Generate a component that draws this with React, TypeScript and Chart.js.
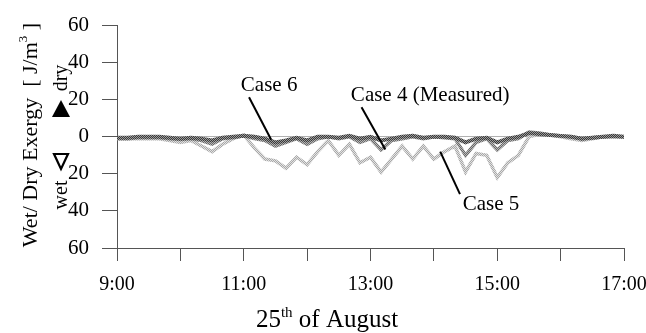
import { useEffect, useRef } from "react";
import { Chart, registerables } from "chart.js";

Chart.register(...registerables);

// ---- data ----
const timeLabels = [
  "9:00", "9:10", "9:20", "9:30", "9:40", "9:50",
  "10:00", "10:10", "10:20", "10:30", "10:40", "10:50",
  "11:00", "11:10", "11:20", "11:30", "11:40", "11:50",
  "12:00", "12:10", "12:20", "12:30", "12:40", "12:50",
  "13:00", "13:10", "13:20", "13:30", "13:40", "13:50",
  "14:00", "14:10", "14:20", "14:30", "14:40", "14:50",
  "15:00", "15:10", "15:20", "15:30", "15:40", "15:50",
  "16:00", "16:10", "16:20", "16:30", "16:40", "16:50",
  "17:00",
];

const case4Measured = [
  -1, -1, -0.5, -0.5, -0.5, -1, -1.5, -1, -2, -4, -1, -0.5, 0.5,
  -1, -2, -5, -3, -1, -4, -1, 0, -1, 0, -3, -1,
  -7, -2, -1, 0, -1, 0, -0.5, -1, -10, -3, -1, -7,
  -2, -1, 2.5, 2, 1, 0.5, 0, -1, -0.5, 0, 0, 0,
];

const case5 = [
  -1, -1, -1, -1, -1, -2, -3, -2, -5, -8, -4, -1, 1,
  -6, -12, -13, -17, -11, -15, -8, -2, -10, -4, -14, -11,
  -19, -12, -5, -12, -5, -12, -8, -5, -19, -9, -10, -22,
  -14, -10, 0, 1.5, 1, 0, -1, -2, -1, 0, 0, 0,
];

const case6 = [
  -0.5, -0.5, 0, 0, 0, -0.5, -1, -0.5, -1, -2, -0.5, 0, 0.5,
  0, -1, -3, -2, -0.5, -2, 0, 0, -0.5, 0.5, -1, 0,
  -2, -1, 0, 0.5, -0.5, 0, 0, -0.5, -3, -1, -0.5, -3,
  -1, 0, 2, 1.5, 1, 0.5, 0, -1, -0.5, 0, 0.5, 0,
];

const yTickValues = [-60, -40, -20, 0, 20, 40, 60];
const xTickLabelsShown = ["9:00", "11:00", "13:00", "15:00", "17:00"];

// callouts: label text, label anchor (minutes, value), leader from/to (minutes, value)
const callouts = [
  { text: "Case 6", tx: 144, ty: 27.7, x1: 125, y1: 21.3, x2: 146, y2: -1.6 },
  { text: "Case 4 (Measured)", tx: 296.5, ty: 22.4, x1: 231.5, y1: 16, x2: 254, y2: -6.9 },
  { text: "Case 5", tx: 354, ty: -36.5, x1: 306, y1: -8, x2: 324.7, y2: -30.9 },
];

const SERIF = '"Liberation Serif", "Times New Roman", serif';

function toMinutes(label: string): number {
  const [h, m] = label.split(":").map(Number);
  return (h - 9) * 60 + m;
}

function series(values: number[]) {
  return timeLabels.map((t, i) => ({ x: toMinutes(t), y: values[i] }));
}

function makePattern(base: string, dot: string): CanvasPattern | string {
  const p = document.createElement("canvas");
  p.width = 2;
  p.height = 2;
  const g = p.getContext("2d");
  if (!g) return base;
  g.fillStyle = base;
  g.fillRect(0, 0, 2, 2);
  g.fillStyle = dot;
  g.fillRect(0, 0, 1, 1);
  g.fillRect(1, 1, 1, 1);
  return g.createPattern(p, "repeat") || base;
}

type Part = { text: string; size: number; dy: number };

function drawParts(ctx: CanvasRenderingContext2D, parts: Part[], cx: number, baseY: number) {
  let total = 0;
  const widths = parts.map((p) => {
    ctx.font = `${p.size}px ${SERIF}`;
    const w = ctx.measureText(p.text).width;
    total += w;
    return w;
  });
  let x = cx - total / 2;
  ctx.textAlign = "left";
  ctx.textBaseline = "alphabetic";
  parts.forEach((p, i) => {
    ctx.font = `${p.size}px ${SERIF}`;
    ctx.fillText(p.text, x, baseY + p.dy);
    x += widths[i];
  });
}

const decorPlugin = {
  id: "decor",
  afterDraw(chart: any) {
    const { ctx } = chart;
    const xs = chart.scales.x;
    const ys = chart.scales.y;
    ctx.save();
    ctx.fillStyle = "#000";
    ctx.strokeStyle = "#000";

    // callouts
    for (const c of callouts) {
      ctx.lineWidth = 2;
      ctx.beginPath();
      ctx.moveTo(xs.getPixelForValue(c.x1), ys.getPixelForValue(c.y1));
      ctx.lineTo(xs.getPixelForValue(c.x2), ys.getPixelForValue(c.y2));
      ctx.stroke();
      ctx.font = `21px ${SERIF}`;
      ctx.textAlign = "center";
      ctx.textBaseline = "middle";
      ctx.fillText(c.text, xs.getPixelForValue(c.tx), ys.getPixelForValue(c.ty));
    }

    // x-axis title with superscript
    drawParts(
      ctx,
      [
        { text: "25", size: 25, dy: 0 },
        { text: "th", size: 15, dy: -10 },
        { text: " of August", size: 25, dy: 0 },
      ],
      327,
      327
    );

    // y-axis title (rotated)
    ctx.save();
    ctx.translate(37, 135);
    ctx.rotate(-Math.PI / 2);
    drawParts(
      ctx,
      [
        { text: "Wet/ Dry Exergy  [ J/m", size: 22, dy: 0 },
        { text: "3", size: 13, dy: -10 },
        { text: " ]", size: 22, dy: 0 },
      ],
      0,
      0
    );
    ctx.restore();

    // dry / wet markers
    ctx.font = `20px ${SERIF}`;
    ctx.textAlign = "center";
    ctx.textBaseline = "alphabetic";
    ctx.save();
    ctx.translate(67, 78);
    ctx.rotate(-Math.PI / 2);
    ctx.fillText("dry", 0, 0);
    ctx.restore();
    ctx.save();
    ctx.translate(67, 195);
    ctx.rotate(-Math.PI / 2);
    ctx.fillText("wet", 0, 0);
    ctx.restore();

    // filled up-triangle
    ctx.beginPath();
    ctx.moveTo(61, 100);
    ctx.lineTo(70, 117);
    ctx.lineTo(52, 117);
    ctx.closePath();
    ctx.fill();

    // hollow down-triangle
    ctx.lineWidth = 2.2;
    ctx.beginPath();
    ctx.moveTo(54, 154);
    ctx.lineTo(68, 154);
    ctx.lineTo(61, 169);
    ctx.closePath();
    ctx.stroke();

    ctx.restore();
  },
};

export default function App() {
  const canvasRef = useRef<HTMLCanvasElement | null>(null);

  useEffect(() => {
    const canvas = canvasRef.current;
    if (!canvas) return;

    const p6 = makePattern("#3a3a3a", "#9a9a9a");
    const p4 = makePattern("#6a6a6a", "#b8b8b8");
    const p5 = makePattern("#a8a8a8", "#e2e2e2");

    const chart = new Chart(canvas, {
      type: "line",
      data: {
        datasets: [
          { label: "Case 6", data: series(case6), borderColor: p6 as any, borderWidth: 4, pointRadius: 0, tension: 0 },
          { label: "Case 4 (Measured)", data: series(case4Measured), borderColor: p4 as any, borderWidth: 3.5, pointRadius: 0, tension: 0 },
          { label: "Case 5", data: series(case5), borderColor: p5 as any, borderWidth: 3.5, pointRadius: 0, tension: 0 },
        ],
      },
      options: {
        animation: false,
        responsive: false,
        maintainAspectRatio: false,
        layout: { padding: { top: 22, right: 22, bottom: 0, left: 0 } },
        plugins: {
          legend: { display: false },
          tooltip: { enabled: false },
        },
        scales: {
          x: {
            type: "linear",
            min: 0,
            max: 480,
            afterBuildTicks: (scale: any) => {
              scale.ticks = [0, 60, 120, 180, 240, 300, 360, 420, 480].map((v) => ({ value: v }));
            },
            afterFit: (scale: any) => {
              scale.height = 85;
              scale.paddingLeft = 0;
              scale.paddingRight = 0;
            },
            ticks: {
              autoSkip: false,
              maxRotation: 0,
              padding: 12,
              color: "#000",
              font: { family: SERIF, size: 20 },
              callback: (value: any) => {
                const label = `${9 + Number(value) / 60}:00`;
                return xTickLabelsShown.includes(label) ? label : "";
              },
            },
            grid: {
              drawOnChartArea: false,
              drawTicks: true,
              tickLength: 13,
              tickColor: "#555",
              tickWidth: 1,
            },
            border: { display: true, color: "#555", width: 1 },
          },
          y: {
            type: "linear",
            min: -60,
            max: 60,
            afterBuildTicks: (scale: any) => {
              scale.ticks = yTickValues.map((v) => ({ value: v }));
            },
            afterFit: (scale: any) => {
              scale.width = 117;
            },
            ticks: {
              padding: 13,
              color: "#000",
              font: { family: SERIF, size: 21 },
              callback: (value: any) => String(Math.abs(Number(value))),
            },
            grid: {
              drawOnChartArea: true,
              drawTicks: true,
              tickLength: 15,
              tickColor: "#555",
              color: (ctx: any) => (ctx.tick && ctx.tick.value === 0 ? "#b0b0b0" : "rgba(0,0,0,0)"),
              lineWidth: 1,
            },
            border: { display: true, color: "#555", width: 1 },
          },
        },
      },
      plugins: [decorPlugin],
    });

    return () => chart.destroy();
  }, []);

  return (
    <div style={{ position: "absolute", left: 0, top: 0, width: 646, height: 333, background: "#fff" }}>
      <canvas ref={canvasRef} width={646} height={333} style={{ display: "block" }} />
    </div>
  );
}
